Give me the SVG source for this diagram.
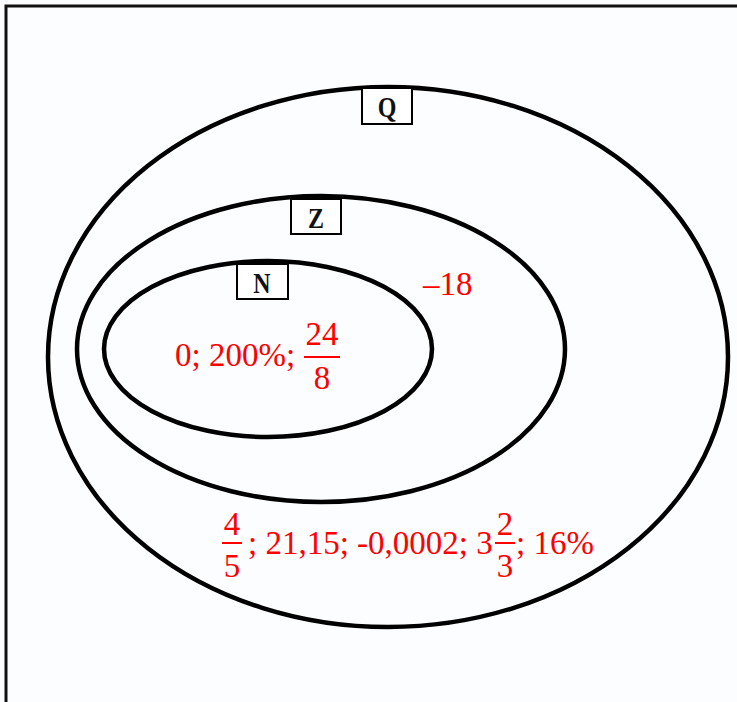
<svg xmlns="http://www.w3.org/2000/svg" width="737" height="702" viewBox="0 0 737 702">
<style>
.set{fill:none;stroke:#000;stroke-width:4.5}
.box{fill:#fff;stroke:#000;stroke-width:2}
.lbl{font-family:"Liberation Serif",serif;font-weight:bold;font-size:30px;fill:#111;text-anchor:middle}
.v{font-family:"Liberation Serif",serif;font-size:33px;fill:#ff0000}
.c{text-anchor:middle}
.bar{stroke:#ff0000;stroke-width:2}
</style>
<rect width="737" height="702" fill="#fcfdfe"/>
<path d="M6 702 V6 H737" fill="none" stroke="#111" stroke-width="3"/>
<g id="Q">
<ellipse class="set" cx="388" cy="357" rx="340" ry="270"/>
<rect class="box" x="362" y="88" width="50" height="36"/>
<text class="lbl" x="387" y="117" transform="translate(387 0) scale(0.8 1) translate(-387 0)">Q</text>
</g>
<g id="Z">
<ellipse class="set" cx="321" cy="349" rx="244" ry="153"/>
<rect class="box" x="291" y="199" width="50" height="35"/>
<text class="lbl" x="316" y="228" transform="translate(316 0) scale(0.8 1) translate(-316 0)">Z</text>
</g>
<g id="N">
<ellipse class="set" cx="268" cy="349" rx="164" ry="88"/>
<rect class="box" x="237" y="264" width="51" height="35"/>
<text class="lbl" x="262" y="293" transform="translate(262 0) scale(0.8 1) translate(-262 0)">N</text>
</g>
<g id="values">
<text class="v" x="423" y="295">–18</text>
<text class="v" x="175" y="366">0; 200%;</text>
<text class="v c" x="322" y="345">24</text>
<line class="bar" x1="304" y1="357" x2="340" y2="357"/>
<text class="v c" x="322" y="389">8</text>
<text class="v c" x="232" y="535">4</text>
<line class="bar" x1="222" y1="543" x2="242" y2="543"/>
<text class="v c" x="232" y="577">5</text>
<text class="v" x="248" y="554">; 21,15; -0,0002; 3</text>
<text class="v c" x="505" y="535">2</text>
<line class="bar" x1="495" y1="543" x2="515" y2="543"/>
<text class="v c" x="505" y="577">3</text>
<text class="v" x="516" y="554">; 16%</text>
</g>
</svg>
